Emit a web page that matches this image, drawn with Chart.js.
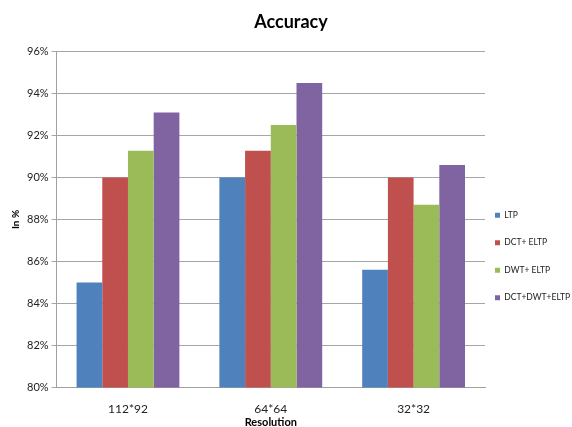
<!DOCTYPE html>
<html>
<head>
<meta charset="utf-8">
<script src="https://cdn.jsdelivr.net/npm/chart.js@4"></script>
<style>
  html, body { margin: 0; padding: 0; background: #fff; }
  #wrap { width: 572px; height: 427px; }
</style>
</head>
<body>
<div id="wrap"><canvas id="accuracyChart"></canvas></div>
<script>
const resolutions = ['112*92', '64*64', '32*32'];
const ltp = [85.0, 90.0, 85.6];
const dctEltp = [90.0, 91.27, 90.0];
const dwtEltp = [91.27, 92.5, 88.7];
const dctDwtEltp = [93.1, 94.5, 90.6];
const yTicks = [80, 82, 84, 86, 88, 90, 92, 94, 96];

const fontFamily = 'Lato, "Open Sans", sans-serif';

// legend item spacing comes from labels.padding, which also sets the left gap;
// widen the legend box toward the plot so the gap stays small
const legendNudge = {
    id: 'legendNudge',
    afterLayout(chart) {
        chart.legend.left -= 9;
        chart.legend.width += 9;
    }
};

const ctx = document.getElementById('accuracyChart').getContext('2d');
const accuracyChart = new Chart(ctx, {
    type: 'bar',
    data: {
        labels: resolutions,
        datasets: [
            { label: 'LTP', data: ltp, backgroundColor: '#4f81bd' },
            { label: 'DCT+ ELTP', data: dctEltp, backgroundColor: '#c0504d' },
            { label: 'DWT+ ELTP', data: dwtEltp, backgroundColor: '#9bbb59' },
            { label: 'DCT+DWT+ELTP', data: dctDwtEltp, backgroundColor: '#8064a2' }
        ]
    },
    options: {
        responsive: true,
        maintainAspectRatio: false,
        animation: false,
        layout: { padding: { left: 10, right: 0, top: 0, bottom: 0 } },
        datasets: {
            bar: { categoryPercentage: 0.72, barPercentage: 1.0 }
        },
        plugins: {
            title: {
                display: true,
                text: 'Accuracy',
                color: '#000',
                font: { family: fontFamily, size: 18, weight: 'bold' },
                padding: { top: 11, bottom: 19 }
            },
            legend: {
                position: 'right',
                maxWidth: 87,
                title: {
                    // empty title only pushes the legend items down
                    display: true,
                    text: '',
                    padding: { top: 74, bottom: 0 },
                    font: { size: 10 }
                },
                labels: {
                    boxWidth: 5,
                    boxHeight: 5,
                    padding: 19,
                    color: '#222',
                    font: { family: fontFamily, size: 8.5 }
                }
            },
            tooltip: { enabled: false }
        },
        scales: {
            x: {
                grid: { display: false, drawTicks: false },
                border: { color: '#a0a0a0' },
                ticks: {
                    color: '#222',
                    padding: 15,
                    font: { family: fontFamily, size: 12 }
                },
                title: {
                    display: true,
                    text: 'Resolution',
                    color: '#000',
                    padding: { top: -16, bottom: -2 },
                    font: { family: fontFamily, size: 11, weight: 'bold' }
                }
            },
            y: {
                min: 80,
                max: 96,
                afterBuildTicks: axis => {
                    axis.ticks = yTicks.map(v => ({ value: v }));
                },
                grid: { color: '#a6a6a6', tickLength: 5 },
                border: { color: '#a0a0a0' },
                ticks: {
                    color: '#222',
                    padding: 3,
                    font: { family: fontFamily, size: 11 },
                    callback: value => value + '%'
                },
                title: {
                    display: true,
                    text: 'In %',
                    color: '#000',
                    padding: { top: 0, bottom: 2 },
                    font: { family: fontFamily, size: 10, weight: 'bold' }
                }
            }
        }
    },
    plugins: [legendNudge]
});
</script>
</body>
</html>
